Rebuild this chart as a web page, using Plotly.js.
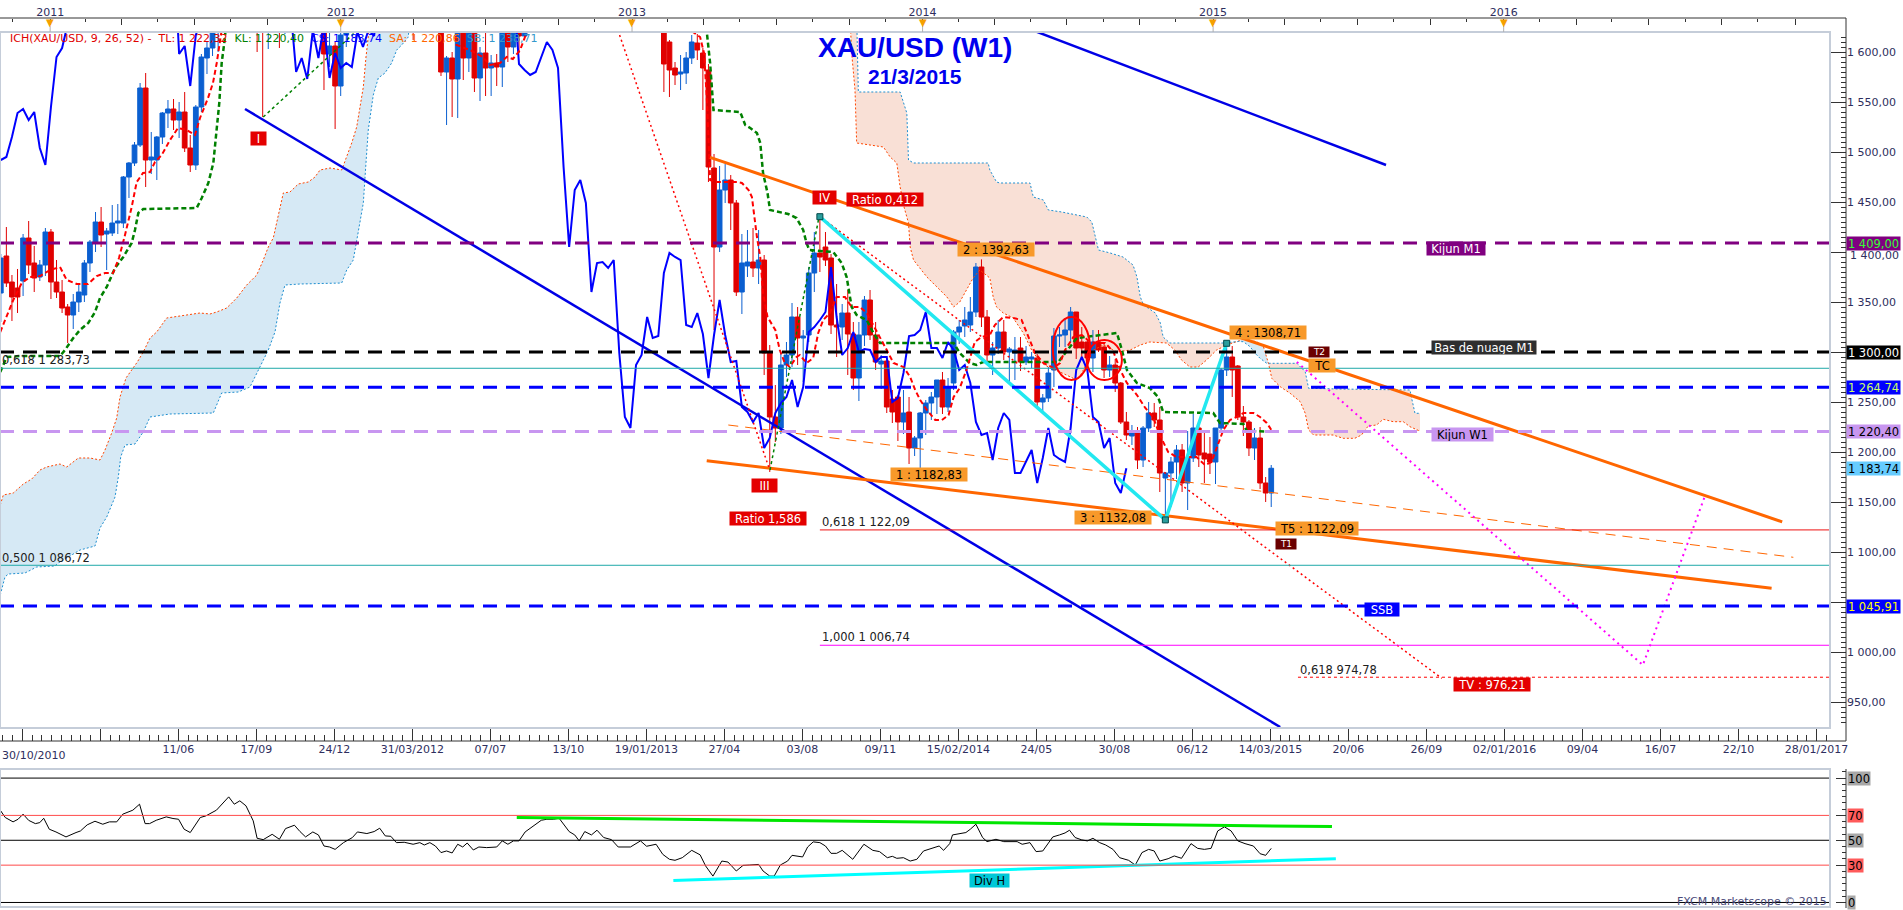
<!DOCTYPE html>
<html><head><meta charset="utf-8">
<script src="https://cdn.plot.ly/plotly-3.0.1.min.js"></script>
<style>html,body{margin:0;padding:0;background:#fff;overflow:hidden}#chart{width:1903px;height:910px}</style>
</head><body><div id="chart"></div>
<script>
// ---------------- DATA ----------------
const firstWeek = '2010-10-31';  // weekly candles, one per week from this Sunday
const wkOpen = [
1359,1396,1370,1364,1371,1414,1389,1375,1387,1420,
1370,1360,1345,1337,1350,1357,1389,1409,1430,1418,
1419,1429,1429,1475,1489,1507,1564,1492,1492,1515,
1539,1543,1532,1540,1504,1487,1545,1594,1604,1628,
1663,1745,1852,1828,1877,1856,1812,1657,1623,1635,
1682,1642,1744,1752,1788,1724,1685,1746,1710,1598,
1606,1566,1617,1631,1665,1727,1725,1724,1725,1775,
1710,1711,1658,1662,1669,1630,1659,1642,1663,1644,
1580,1594,1573,1622,1594,1627,1574,1599,1584,1589,
1585,1620,1605,1622,1616,1671,1692,1738,1768,1772,
1773,1780,1758,1724,1711,1676,1731,1714,1751,1711,
1705,1696,1658,1657,1656,1662,1687,1657,1667,1667,
1610,1584,1578,1579,1594,1609,1599,1582,1484,1405,
1462,1472,1449,1360,1386,1390,1384,1392,1299,1235,
1224,1287,1297,1335,1314,1317,1379,1399,1405,1394,
1327,1325,1339,1318,1274,1317,1352,1317,1288,1291,
1253,1255,1230,1240,1204,1214,1239,1249,1255,1272,
1245,1269,1320,1326,1327,1340,1385,1335,1297,1304,
1320,1300,1299,1304,1290,1293,1294,1250,1254,1282,
1316,1317,1322,1340,1310,1310,1294,1310,1305,1282,
1287,1269,1230,1216,1219,1192,1224,1239,1232,1174,
1179,1190,1202,1169,1194,1224,1199,1198,1190,1224,
1282,1295,1286,1235,1230,1204,1214,1169,1159];
const wkHigh = [
1398,1425,1377,1383,1418,1431,1406,1392,1424,1423,
1392,1372,1348,1358,1368,1392,1412,1440,1445,1424,
1447,1448,1476,1490,1510,1569,1579,1520,1516,1540,
1552,1553,1550,1560,1517,1547,1598,1610,1630,1682,
1800,1880,1913,1881,1921,1858,1832,1680,1676,1695,
1695,1760,1765,1803,1797,1727,1761,1762,1724,1622,
1610,1634,1661,1670,1730,1764,1763,1738,1782,1790,
1718,1715,1670,1697,1680,1677,1663,1665,1678,1649,
1596,1600,1632,1641,1640,1630,1605,1627,1597,1598,
1625,1627,1625,1626,1675,1692,1740,1773,1788,1781,
1796,1788,1762,1731,1725,1740,1737,1754,1754,1722,
1722,1700,1668,1694,1679,1693,1696,1684,1681,1674,
1612,1590,1597,1600,1617,1618,1604,1588,1498,1486,
1488,1477,1452,1418,1422,1424,1422,1397,1307,1267,
1300,1310,1349,1345,1322,1385,1420,1435,1420,1398,
1368,1348,1362,1330,1330,1356,1362,1330,1297,1294,
1262,1257,1262,1255,1216,1240,1252,1260,1272,1280,
1274,1322,1332,1345,1355,1389,1392.63,1342,1310,1332,
1332,1305,1315,1315,1306,1300,1298,1258,1285,1324,
1325,1334,1345,1340,1325,1312,1322,1322,1310,1296,
1293,1270,1240,1227,1225,1226,1250,1249,1245,1180,
1195,1207,1208,1221,1238,1226,1220,1215,1224,1284,
1308.71,1306,1287,1246,1232,1224,1225,1175,1187];
const wkLow = [
1330,1365,1331,1339,1356,1378,1360,1371,1376,1353,
1354,1339,1309,1323,1340,1350,1380,1400,1405,1382,
1416,1418,1424,1454,1486,1505,1465,1478,1472,1508,
1524,1522,1514,1500,1480,1482,1540,1578,1596,1600,
1651,1722,1702,1800,1815,1764,1600,1535,1603,1630,
1604,1618,1676,1738,1707,1676,1682,1702,1562,1585,
1523,1556,1605,1627,1652,1710,1700,1702,1720,1688,
1662,1635,1627,1655,1612,1629,1625,1627,1630,1576,
1527,1535,1534,1572,1580,1560,1551,1556,1556,1566,
1565,1590,1598,1599,1612,1640,1687,1724,1753,1747,
1768,1754,1720,1697,1673,1672,1705,1713,1705,1684,
1692,1635,1646,1626,1645,1660,1652,1654,1659,1560,
1555,1567,1562,1568,1588,1592,1542,1470,1322,1400,
1449,1422,1356,1338,1375,1375,1368,1277,1180,1210,
1218,1275,1285,1287,1270,1310,1360,1380,1386,1318,
1295,1312,1277,1262,1251,1306,1312,1282,1263,1239,
1229,1211,1218,1188,1196,1182.83,1217,1232,1238,1238,
1240,1262,1308,1315,1320,1335,1325,1290,1277,1298,
1292,1268,1272,1281,1287,1284,1244,1240,1250,1265,
1305,1305,1310,1293,1292,1282,1280,1300,1274,1275,
1260,1228,1212,1207,1183,1185,1220,1225,1160,1132.08,
1145,1173,1160,1142,1190,1185,1169,1178,1168,1220,
1276,1255,1232,1216,1196,1192,1163,1150,1145];
const wkClose = [
1394,1369,1355,1355,1414,1387,1374,1387,1420,1370,
1360,1344,1337,1350,1360,1389,1410,1430,1417,1421,
1429,1431,1475,1489,1507,1564,1492,1495,1515,1539,
1543,1532,1540,1504,1487,1545,1595,1604,1628,1663,
1745,1852,1828,1877,1856,1812,1657,1623,1635,1682,
1642,1744,1752,1788,1724,1685,1746,1710,1598,1606,
1566,1617,1631,1665,1727,1725,1724,1725,1775,1710,
1711,1658,1662,1669,1630,1659,1642,1663,1644,1580,
1594,1573,1622,1594,1627,1574,1599,1584,1589,1585,
1620,1605,1622,1616,1671,1692,1738,1768,1772,1773,
1780,1758,1724,1711,1676,1731,1714,1751,1711,1705,
1696,1658,1657,1656,1662,1687,1657,1667,1667,1588,
1582,1577,1580,1594,1610,1602,1584,1485,1405,1462,
1472,1449,1360,1389,1390,1384,1392,1299,1235,1224,
1287,1297,1335,1314,1316,1379,1399,1395,1392,1327,
1325,1339,1318,1274,1317,1352,1317,1290,1291,1245,
1240,1230,1239,1204,1214,1239,1249,1255,1272,1245,
1265,1320,1325,1332,1340,1385,1335,1297,1304,1320,
1300,1303,1302,1290,1295,1295,1250,1254,1279,1316,
1317,1322,1340,1304,1304,1294,1310,1302,1282,1287,
1269,1230,1217,1219,1192,1224,1239,1232,1179,1179,
1190,1202,1169,1194,1224,1197,1193,1190,1224,1282,
1295,1282,1235,1230,1204,1214,1169,1159,1183.74];

// Ichimoku lines, sampled: week offset from firstWeek -> price
const tenkanWk = [-0.1,1.06,2.24,3.75,5.24,7.04,8.83,10.62,11.83,13.62,15.65,17.21,18.71,20.14,21.21,22.29,23.49,24.39,25.52,26.78,27.67,28.88,30.37,31.8,33.36,34.85,35.75,37.19,38.08,38.75,39.34,39.64,40.4,
 81.2,81.8,84.2,86.5,87.8,89.6,90.8,91.9,93.2,94.4,95,
 123.7,124.2,125.5,126.2,126.7,127.3,128.2,130.3,132.1,133,134.2,134.8,135.2,135.7,136.3,136.8,137.6,139,139.8,140.7,141.6,142.8,143.4,144.6,145.8,146.7,147.6,148.8,150,151.5,152.7,154.2,155.4,156.6,157.8,159,160.2,162,163.2,164.1,165,166.2,167.7,168.9,170.1,171,172.1,173.3,174.8,176,177.5,178.4,179.9,181.7,183.2,184.4,185.6,187.1,188.9,190.1,191,192.5,194,195.5,196.7,198.2,199.7,200.9,202.1,203.9,205.4,206.8,208,209.5,211,212.8,214.6,216.1,217.3,218.2,219.4,220.6,221.8,223,224.8,226,227.2,228];
const tenkanVal = [1320,1335,1352,1369,1375,1376,1382,1385,1372,1368,1368,1376,1379,1379,1394,1417,1445,1470,1479,1480,1490,1497,1512,1524,1522,1517,1534,1554,1569,1589,1609,1622,1660,
 1640,1607,1602,1595,1587,1589,1595,1593,1602,1620,1640,
 1640,1620,1615,1599,1555,1472,1470,1470,1470,1469,1462,1455,1435,1415,1395,1359,1335,1322,1302,1289,1285,1295,1297,1289,1294,1319,1332,1339,1355,1355,1345,1345,1339,1327,1315,1302,1289,1285,1275,1262,1252,1242,1232,1232,1237,1255,1264,1282,1310,1315,1317,1327,1335,1334,1332,1315,1299,1289,1284,1289,1302,1315,1317,1310,1309,1309,1300,1282,1269,1257,1244,1235,1217,1200,1195,1195,1195,1187,1190,1204,1222,1232,1235,1239,1239,1235,1229,1222.3];
const kijunWk = [-0.1,1.06,3.45,8.24,10.62,11.52,13.01,14.21,15.7,16.91,17.8,19.01,20.5,21.98,23.49,24.08,24.68,25.57,35.16,36.06,37.24,38.14,38.75,39.21,39.64,40.24,40.6,
 126.4,126.7,127.3,127.9,132.7,133.6,134.5,135.7,136.3,136.8,137.6,138.05,141.3,142.8,144,144.6,145.1,149.4,150.9,151.8,152.4,152.7,153.6,155.4,156.6,157.8,171,172.1,173.9,175.1,176.3,189.8,193.1,200.3,201.2,202.1,203.9,206.2,207.7,208.6,217.6,218.8,223,223.6,228];
const kijunVal = [1280,1295,1296,1296,1296,1302,1314,1322,1329,1340,1354,1365,1384,1395,1409,1422,1439,1443,1444,1454,1469,1489,1522,1549,1589,1615,1650,
 1650,1620,1589,1542,1540,1527,1524,1519,1509,1479,1459,1442,1438,1434,1422,1409,1402,1400,1389,1375,1355,1345,1337,1332,1319,1309,1309,1299,1289,1287,1290,1290,1314,1319,1302,1282,1269,1264,1255,1240,1239,1229,1228,1221,1220.4];
const ssaWk = [-0.1,0.45,2.24,4.04,5.55,7.04,8.24,10.62,11.83,13.91,16.01,17.8,18.7,19.9,20.8,21.39,22.47,23.49,24.5,25.57,26.78,27.98,29.77,30.96,33.36,35.75,37.54,38.75,40.54,42.34,44.13,45.93,47.11,48.01,48.9,49.8,50.7,51.9,53.39,55.19,56.39,57.29,59.08,61.18,62.08,62.98,63.87,64.47,65.06,65.54,65.95,66.4,
 152.2,152.7,153.3,153.6,158.4,159.6,160.8,161.4,162.1,162.9,163.2,163.8,165,166.2,168,169.8,171,172.1,173.3,174.5,175.7,177.5,178.1,178.7,179.9,181.7,183.5,185,186.5,188.3,190.1,191.9,193.1,194,194.9,196.1,197.9,200.3,202.7,204.5,206.2,209.2,210.7,211.9,213.4,214.9,216.4,218.2,220,222.1,
 223,225.4,226.6,227.5,228.1,229.6,231.4,233.2,234.1,234.7,235.6,239.1,240.9,243,244.2,245.4,246.9,248.1,249.9,251.7,252.9,254.7];
const ssaVal = [1147,1157,1159,1168,1173,1182,1185,1188,1185,1194,1194,1192,1202,1219,1234,1255,1274,1282,1290,1300,1314,1320,1334,1335,1337,1339,1338,1340,1344,1354,1367,1377,1392,1405,1414,1437,1459,1460,1468,1470,1475,1482,1484,1482,1495,1509,1525,1545,1565,1595,1615,1660,
 1660,1599,1562,1509,1505,1495,1489,1465,1445,1429,1405,1392,1384,1375,1365,1355,1345,1350,1362,1374,1382,1374,1355,1345,1339,1334,1319,1302,1290,1284,1280,1275,1272,1279,1289,1302,1307,1300,1302,1307,1310,1309,1302,1292,1285,1285,1292,1302,1307,1311,
 1312.7,1310.3,1305.3,1288.7,1273.7,1265.3,1258.7,1250.3,1238.7,1222,1217,1217,1213.7,1213.7,1217,1226,1227,1232.7,1230.3,1230.3,1225.3,1220.86];
const ssbWk = [-0.1,0.75,1.35,4.34,6.44,9.73,10.32,14.21,16.91,17.8,19.01,20.5,21.09,21.52,22.29,24.08,25.57,26.78,30.37,38.14,39.64,42.62,44.72,46.52,48.01,49.21,50.1,51,53.7,61.18,62.08,63.26,64.16,65.06,65.54,65.95,66.85,67.75,68.95,70.15,71.05,71.95,73.13,73.8,
 153.5,153.9,161.4,162.6,162.9,163.8,177.2,177.5,178.7,179.3,184.7,185.3,187.1,188,190.4,194.9,195.8,196.6,197,199.1,201.4,203.2,203.9,204.5,205.1,207.2,208.1,208.6,209.8,214.6,219.4,222.1,
 223,224.2,225.1,226,227.2,227.5,232.6,234.1,234.7,240.3,252.9,253.2,253.8,254.7];
const ssbVal = [1057,1075,1078,1079,1085,1086,1089,1102,1106,1124,1135,1155,1175,1195,1207,1208,1220,1235,1238,1239,1259,1260,1265,1285,1302,1320,1349,1367,1368,1369,1382,1392,1419,1449,1489,1522,1557,1574,1579,1589,1602,1607,1615,1660,
 1660,1560,1560,1539,1492,1489,1489,1482,1470,1469,1469,1455,1452,1442,1440,1435,1430,1412,1402,1399,1395,1387,1375,1355,1347,1339,1329,1315,1309,1309,1309,1310.5,
 1310.3,1305.3,1298.7,1293.7,1288.7,1288.7,1288.7,1280.3,1263.7,1263,1262,1253.7,1238.7,1238.71];
const cloudSegments = [ {from:-1, to:75, bull:true}, {from:150, to:222.1, bull:false}, {from:222.1, to:227.5, bull:true}, {from:227.5, to:255, bull:false} ];

// RSI (14), sampled
const rsiWk = [-0.1,0.8,2.2,3.1,4,5,6.2,7,7.7,8.7,9.9,11.7,13.5,14.3,15.5,16.9,18.3,19.5,20.8,21.9,23.7,24.9,25.9,26.7,27.9,29.7,30.9,31.9,32.9,34,35.8,36.8,38.7,39.9,40.9,41.9,42.9,44,44.7,45.3,46,47.1,48.7,50,51.1,52.7,53.7,54.7,56,57,58,59,60,61.5,63.1,64,65.7,67,68,69,70,71,72.4,74,75.2,76,77,78,79,80,81,82,82.9,83.7,84.8,85.8,87.2,89,90,91,92,93,94.1,95.7,97,98,99.2,100.2,101,102,103,103.8,104.8,106,107,108.2,109.6,110.8,113,114.8,115.9,117.6,118.8,120,121,122.3,124,125.5,126.5,127.8,129.4,130.5,132,133.2,134.4,136,136.8,138,138.8,139.9,141.2,142,143.9,144.8,145.8,147,148,149,150,151,152.9,154.9,156.5,157.7,159.1,160,160.8,162,163.2,164.4,165.6,167.2,168.4,169.2,170.3,170.8,172,173.2,174,175,176.2,177,178.6,180,182.4,183.3,184.7,185.8,187,188.8,190,191,191.8,192.8,194,195,196,197.2,198.3,199.6,200.8,202.4,203.6,204.8,206,207,208,209.5,210.6,211.9,213.6,214.8,216,217.2,218.4,219.6,220.8,222,223.3,224.8,226,227,228];
const rsiVal = [74.2,68.3,64.8,66.9,71,66,63.4,64.2,67.7,58.9,56.7,52.7,56.2,57.5,62.4,65.3,62.9,64.8,64.8,71,74.2,79,63.4,63.4,66.1,68.8,67.5,66.9,58.9,56.2,68.3,69.6,74.2,80.4,84.9,79,81.7,77.7,71.5,65.6,51.6,50.5,54.8,50.8,59.4,62.1,57,52.7,56.7,54.3,45.4,44.6,42.7,48.1,52.2,56.7,55.4,57,59.7,53.5,53.2,48.1,48.4,46.8,48.1,46.2,48.1,45.4,40.1,41.4,39.8,46.8,44.6,47.8,42.2,44.6,44.1,44.6,49.5,46.8,49.5,49.5,56.7,61.6,66.1,66.9,66.9,67.7,62.9,57,54.3,49.5,57,54.3,58.1,52.2,50.5,44.6,44.6,49.5,45.2,46.8,38.7,34.7,33.9,36,41.9,38.3,29.3,21.2,33.3,32.5,25.3,29.8,30.1,30.6,25.3,21.2,21.2,30.1,33.3,37.9,36.6,44.6,48.7,48.1,45.4,39.5,39.5,41.9,34.7,46.8,41.9,40.9,36,37.1,35.5,36,33.3,34.7,41.4,43.5,45.4,41.9,47.3,54.3,55.4,56.2,58.9,62.9,52.2,48.9,50.8,48.9,48.9,46.8,48.1,40.9,41.4,52.7,54.3,55.9,58.1,52.2,50.3,49.5,51.6,48.1,46.2,42.7,36,33.9,30.1,40.1,42.7,41.4,33.3,35.2,37.4,35.5,47.3,43.5,42.7,43.5,57.5,60.8,57.5,49.5,47.3,45.4,39.2,37.9,43.5];

// Drawn trend lines: [week, price] end points
const trendLines = {
  blueMain:    {wk:[43.83,229.6],  p:[1543,925]},
  blueTop:     {wk:[182.9,248.6],  p:[1626.6,1487]},
  orangeUpper: {wk:[127.28,319.7], p:[1494.7,1130.2]},
  orangeLower: {wk:[126.69,317.8], p:[1191.3,1063.7]},
  orangeThin:  {wk:[130.56,321.7], p:[1227,1094.7]},
  redSteep:    {wk:[109,138],      p:[1650,1182]},
  redTV:       {wk:[146.84,258.6], p:[1436,973.7]},
  greenI:      {wk:[47.1,65],      p:[1535,1627]},
  greenIIIIV:  {wk:[138.05,146.84],p:[1182,1435]},
  magenta:     {wk:[232.6,294.7,305.9], p:[1290,987,1157]},
  cyanWave:    {wk:[147,209,220],  p:[1435.3,1132.08,1308.71]}
};
const rsiTrends = {
  green: {wk:[92.6,238.9], v:[68.3,61.0]},
  cyan:  {wk:[120.7,239.6], v:[17.7,35.2]}
};
// Horizontal levels
const levels = [
  {p:1409.00, fromWk:null},{p:1300.00, fromWk:null},{p:1283.73, fromWk:null},{p:1264.74, fromWk:null},
  {p:1220.40, fromWk:null},{p:1122.09, fromWk:147},{p:1086.72, fromWk:null},{p:1045.91, fromWk:null},
  {p:1006.74, fromWk:147},{p:974.78, fromWk:232.8}
];
const levelStyle = [
  {color:'#800080',width:3,dash:'14px,9px'},{color:'#000000',width:3,dash:'14px,9px'},{color:'#1fa8a8',width:1,dash:'solid'},
  {color:'#0000ff',width:3,dash:'14px,9px'},{color:'#c896f0',width:3,dash:'14px,9px'},{color:'#ee1111',width:1,dash:'solid'},
  {color:'#1fa8a8',width:1,dash:'solid'},{color:'#0000ff',width:3,dash:'14px,9px'},{color:'#ff00ff',width:1,dash:'solid'},
  {color:'#ff0000',width:1,dash:'3px,3px'}
];
// Labels on the chart: text, week, price
const chartLabels = [
  {t:'I', wk:46.2, p:1514, s:'red'},
  {t:'IV', wk:147.8, p:1454.5, s:'red'},
  {t:'Ratio 0,412', wk:158.6, p:1452.5, s:'red'},
  {t:'III', wk:137.06, p:1166.5, s:'red'},
  {t:'Ratio 1,586', wk:137.6, p:1134, s:'red'},
  {t:'1 : 1182,83', wk:166.5, p:1177.5, s:'orange'},
  {t:'2 : 1392,63', wk:178.6, p:1403, s:'orange'},
  {t:'3 : 1132,08', wk:199.6, p:1135, s:'orange'},
  {t:'4 : 1308,71', wk:227.5, p:1319.5, s:'orange'},
  {t:'T5 : 1122,09', wk:236.2, p:1123.5, s:'orange'},
  {t:'TC', wk:237.1, p:1286.5, s:'orange'},
  {t:'T1', wk:230.7, p:1108, s:'dark'},
  {t:'T2', wk:236.6, p:1300, s:'dark'},
  {t:'Bas de nuage M1', wk:266.1, p:1304.5, s:'black'},
  {t:'Kijun W1', wk:262.3, p:1217.5, s:'lav'},
  {t:'Kijun M1', wk:261.2, p:1404, s:'purple'},
  {t:'SSB', wk:247.9, p:1043, s:'blue'},
  {t:'TV : 976,21', wk:267.7, p:968, s:'red'}
];
const fiboTexts = [
  {t:'0,618 1 283,73', wk:-0.14, p:1292},
  {t:'0,500 1 086,72', wk:-0.14, p:1094},
  {t:'0,618 1 122,09', wk:147, p:1130},
  {t:'1,000 1 006,74', wk:147, p:1015},
  {t:'0,618 974,78', wk:232.8, p:982}
];
const priceTags = [
  {p:1409.00, bg:'#800080', fg:'#33ff33'},
  {p:1300.00, bg:'#000000', fg:'#ffffff'},
  {p:1264.74, bg:'#0000ff', fg:'#ccff66'},
  {p:1220.40, bg:'#c896f0', fg:'#000000'},
  {p:1183.74, bg:'#66ccff', fg:'#000000'},
  {p:1045.91, bg:'#0000ff', fg:'#ffff00'}
];
const priceTicks = [950,1000,1050,1100,1150,1200,1250,1300,1350,1400,1450,1500,1550,1600];
const coveredTicks = [1050,1300,1400];   // tick labels hidden behind the value tags
const rsiTags = [{v:100,bg:'#a8a8a8'},{v:70,bg:'#ff5a5a'},{v:50,bg:'#a8a8a8'},{v:30,bg:'#ff5a5a'},{v:0,bg:'#a8a8a8'}];
const dateTicks = ['2010-11-27','2011-03-05','2011-06-11','2011-09-17','2011-12-24','2012-03-31','2012-07-07','2012-10-13','2013-01-19','2013-04-27','2013-08-03','2013-11-09','2014-02-15','2014-05-24','2014-08-30','2014-12-06','2015-03-14','2015-06-20','2015-09-26','2016-01-02','2016-04-09','2016-07-16','2016-10-22','2017-01-28'];
const dateTickText = ['','','11/06','17/09','24/12','31/03/2012','07/07','13/10','19/01/2013','27/04','03/08','09/11','15/02/2014','24/05','30/08','06/12','14/03/2015','20/06','26/09','02/01/2016','09/04','16/07','22/10','28/01/2017'];
const years = [2011,2012,2013,2014,2015,2016];

// ---------------- HELPERS ----------------
const DAY = 86400000, WEEK = 7*DAY;
const T0 = Date.parse(firstWeek + 'T00:00:00Z');
function wkIso(w){ return new Date(T0 + w*WEEK).toISOString().slice(0,19); }
function wkDate(w){ return wkIso(w).replace('T',' '); }
function wkPath(w){ return wkIso(w).replace('T','_'); }
function fmtPrice(v){ const s=v.toFixed(2).split('.'); return s[0].replace(/\B(?=(\d{3})+(?!\d))/g,' ')+','+s[1]; }
const W=1903, H=910;
const px = x => x/W, py = y => 1 - y/H;
const XR = [wkDate(-0.1436), wkDate(328.28)];
const XD = [0, px(1830)];
const FONT = 'DejaVu Sans, Verdana, sans-serif';

// ---------------- TRACES ----------------
const candleX = wkClose.map((_,i)=>wkDate(i));
const traces = [];
traces.push({type:'candlestick', x:candleX, open:wkOpen, high:wkHigh, low:wkLow, close:wkClose,
  increasing:{line:{color:'#0b5fd0',width:1}, fillcolor:'#0b5fd0'},
  decreasing:{line:{color:'#e00000',width:1}, fillcolor:'#e00000'},
  whiskerwidth:0, hoverinfo:'skip', showlegend:false});
function line(xw, y, color, width, dash, extra){
  return Object.assign({type:'scatter', mode:'lines', x:xw.map(wkDate), y:y, line:{color:color,width:width,dash:dash}, hoverinfo:'skip', showlegend:false}, extra||{});
}
traces.push(line(ssaWk, ssaVal, '#ff4500', 1, '2px,2px'));
traces.push(line(ssbWk, ssbVal, '#1f8fd0', 1, '2px,2px'));
// chikou = close plotted 26 weeks back
const chX=[], chY=[];
for(let i=26;i<wkClose.length;i++){ chX.push(i-26); chY.push(wkClose[i]); }
traces.push(line(chX, chY, '#0000ff', 2, 'solid'));
traces.push(line(kijunWk, kijunVal, '#008000', 2.5, '5px,3px'));
traces.push(line(tenkanWk, tenkanVal, '#ff0000', 2, '5px,3px'));
const trendStyle = {
  blueMain:['#0000e6',2.5,'solid'], blueTop:['#0000e6',2.5,'solid'],
  orangeUpper:['#ff6600',3,'solid'], orangeLower:['#ff6600',3,'solid'], orangeThin:['#ff6600',1,'10px,7px'],
  redSteep:['#ff0000',1.5,'2px,3px'], redTV:['#ff0000',1.5,'2px,3px'],
  greenI:['#008000',1.5,'3px,3px'], greenIIIIV:['#008000',1.5,'3px,3px'],
  magenta:['#ff00ff',2,'2px,4px'], cyanWave:['#22e8f0',3.5,'solid']
};
for(const k in trendLines){ const s=trendStyle[k]; traces.push(line(trendLines[k].wk, trendLines[k].p, s[0], s[1], s[2])); }
traces.push({type:'scatter', mode:'markers', x:trendLines.cyanWave.wk.map(wkDate), y:trendLines.cyanWave.p,
  marker:{symbol:'square', size:6, color:'#2a9d9d', line:{color:'#004848',width:1}}, hoverinfo:'skip', showlegend:false});
// RSI panel
traces.push(line(rsiWk, rsiVal, '#000000', 1, 'solid', {xaxis:'x3', yaxis:'y2'}));
traces.push(line(rsiTrends.green.wk, rsiTrends.green.v, '#00e600', 3, 'solid', {xaxis:'x3', yaxis:'y2'}));
traces.push(line(rsiTrends.cyan.wk, rsiTrends.cyan.v, '#00ffff', 3, 'solid', {xaxis:'x3', yaxis:'y2'}));
// anchor trace for the top axis
traces.push({type:'scatter', mode:'markers', x:[wkDate(10)], y:[5000], xaxis:'x2', yaxis:'y', marker:{opacity:0}, hoverinfo:'skip', showlegend:false});

// ---------------- SHAPES ----------------
const shapes = [];
cloudSegments.forEach(seg=>{
  const a=[], b=[];
  ssaWk.forEach((w,i)=>{ if(w>=seg.from-1e-6 && w<=seg.to+1e-6) a.push([w, ssaVal[i]]); });
  ssbWk.forEach((w,i)=>{ if(w>=seg.from-1e-6 && w<=seg.to+1e-6) b.push([w, ssbVal[i]]); });
  const pts = a.concat(b.reverse());
  shapes.push({type:'path', xref:'x', yref:'y', layer:'below', path:'M'+pts.map(q=>wkPath(q[0])+','+q[1]).join('L')+'Z',
    fillcolor: seg.bull ? '#d6e9f5' : '#f9e0d6', line:{width:0}});
});
levels.forEach((lv,i)=>{
  const st = levelStyle[i];
  if(lv.fromWk===null) shapes.push({type:'line', xref:'paper', yref:'y', x0:0, x1:XD[1], y0:lv.p, y1:lv.p, line:{color:st.color,width:st.width,dash:st.dash}});
  else shapes.push({type:'line', xref:'x', yref:'y', x0:wkDate(lv.fromWk), x1:XR[1], y0:lv.p, y1:lv.p, line:{color:st.color,width:st.width,dash:st.dash}});
});
// red ellipses
shapes.push({type:'circle', xref:'x', yref:'y', x0:wkDate(188.8), x1:wkDate(195.5), y0:1272, y1:1335, line:{color:'#ff0000',width:2}});
shapes.push({type:'circle', xref:'x', yref:'y', x0:wkDate(194.9), x1:wkDate(201.2), y0:1272, y1:1312, line:{color:'#ff0000',width:2}});
// RSI levels
[[100,'#000000'],[70,'#ff4a4a'],[50,'#000000'],[30,'#ff4a4a'],[0,'#000000']].forEach(r=>{
  shapes.push({type:'line', xref:'paper', yref:'y2', x0:0, x1:XD[1], y0:r[0], y1:r[0], line:{color:r[1],width:1}});
});
// frames and axis lines
shapes.push({type:'rect', xref:'paper', yref:'paper', x0:0, x1:XD[1], y0:py(728), y1:py(32), line:{color:'#c5cdd9',width:2}});
shapes.push({type:'rect', xref:'paper', yref:'paper', x0:0, x1:XD[1], y0:py(907), y1:py(769), line:{color:'#c5cdd9',width:2}});
shapes.push({type:'line', xref:'paper', yref:'paper', x0:0, x1:px(1846), y0:py(18), y1:py(18), line:{color:'#333',width:1}});
shapes.push({type:'line', xref:'paper', yref:'paper', x0:0, x1:px(1846), y0:py(741), y1:py(741), line:{color:'#333',width:1}});
shapes.push({type:'line', xref:'paper', yref:'paper', x0:px(1846), x1:px(1846), y0:py(741), y1:py(18), line:{color:'#333',width:1}});
shapes.push({type:'line', xref:'paper', yref:'paper', x0:px(1846), x1:px(1846), y0:py(908), y1:py(769), line:{color:'#333',width:1}});
years.forEach(y=>{
  shapes.push({type:'line', xref:'x2', yref:'paper', x0:y+'-01-01', x1:y+'-01-01', y0:py(26), y1:py(32), line:{color:'#b0b0b0',width:1}});
});

// ---------------- ANNOTATIONS ----------------
const ann = [];
const boxStyle = {red:['#e40000','#ffffff'], orange:['#f8992a','#000000'], dark:['#6b0000','#ffffff'], black:['#2e2e2e','#ffffff'],
  lav:['#c896f0','#000000'], purple:['#800080','#ffffff'], blue:['#0000ff','#ffffff']};
const boxWidth = {'I':15,'IV':23,'III':25,'TC':26,'T1':20,'T2':20,'SSB':34,'Kijun W1':61,'Kijun M1':58,'Bas de nuage M1':104};
chartLabels.forEach(l=>{
  const st = boxStyle[l.s];
  const small = (l.t==='T1'||l.t==='T2');
  const w = boxWidth[l.t] || Math.round(l.t.length*6.5 + 4);
  ann.push({xref:'x', yref:'y', x:wkDate(l.wk), y:l.p, text:l.t, showarrow:false, xanchor:'center', yanchor:'middle',
    bgcolor:st[0], borderpad:0, width:w, height: small?10:13, font:{family:FONT, size: small?9:11.5, color:st[1]}});
});
fiboTexts.forEach(f=>{
  ann.push({xref:'x', yref:'y', x:wkDate(f.wk), y:f.p, text:f.t, showarrow:false, xanchor:'left', yanchor:'middle',
    font:{family:FONT, size:11.5, color:'#202020'}});
});
priceTags.forEach(t=>{
  ann.push({xref:'paper', yref:'y', x:px(1846), y:t.p, text:fmtPrice(t.p), showarrow:false, xanchor:'left', yanchor:'middle',
    bgcolor:t.bg, borderpad:0, width:53, height:13, font:{family:FONT, size:11.5, color:t.fg}});
});
// partly visible tick label under the 1 409,00 tag
ann.push({xref:'paper', yref:'y', x:px(1848), y:1396.5, text:fmtPrice(1400), showarrow:false, xanchor:'left', yanchor:'middle',
  font:{family:FONT, size:11, color:'#2e2e5e'}});
rsiTags.forEach(t=>{
  ann.push({xref:'paper', yref:'y2', x:px(1847), y:t.v, text:String(t.v), showarrow:false, xanchor:'left', yanchor:'middle',
    bgcolor:t.bg, borderpad:0, height:13, font:{family:FONT, size:11.5, color:'#000'}});
});
ann.push({xref:'x3', yref:'y2', x:wkDate(177.4), y:17.8, text:'Div H', showarrow:false, bgcolor:'#00c8d8', borderpad:0, width:39, height:13,
  font:{family:FONT, size:11.5, color:'#000'}});
years.forEach(y=>{
  ann.push({xref:'x2', yref:'paper', x:y+'-01-01', y:py(22.5), text:'▼', showarrow:false, yanchor:'middle',
    font:{family:FONT, size:10, color:'#f5a000'}});
});
ann.push({xref:'paper', yref:'paper', x:0, y:py(755), text:'30/10/2010', showarrow:false, xanchor:'left', yanchor:'middle',
  font:{family:FONT, size:11, color:'#2e2e5e'}});
ann.push({xref:'paper', yref:'paper', x:px(915), y:py(30), text:'<b>XAU/USD (W1)</b>', showarrow:false, xanchor:'center', yanchor:'top',
  font:{family:'Liberation Sans, Arial, sans-serif', size:28, color:'#0000ee'}});
ann.push({xref:'paper', yref:'paper', x:px(915), y:py(63.5), text:'<b>21/3/2015</b>', showarrow:false, xanchor:'center', yanchor:'top',
  font:{family:'Liberation Sans, Arial, sans-serif', size:21, color:'#0000ee'}});
ann.push({xref:'paper', yref:'paper', x:px(8), y:py(39), xanchor:'left', yanchor:'middle', showarrow:false,
  text:'<span style="color:#e00000">ICH(XAU/USD, 9, 26, 52) -  TL: 1 222,32</span>  <span style="color:#008000">KL: 1 220,40</span>  <span style="color:#0000ff">CS: 1 183,74</span>  <span style="color:#ff6600">SA: 1 220,86</span>  <span style="color:#3399cc">SB: 1 238,71</span>',
  font:{family:FONT, size:11}});
ann.push({xref:'paper', yref:'paper', x:px(1829), y:py(901), xanchor:'right', yanchor:'middle', showarrow:false,
  text:'FXCM Marketscope © 2015', font:{family:FONT, size:11, color:'#4a4a7a'}});

// ---------------- LAYOUT ----------------
const quarterTicks=[], quarterText=[], midTicks=[];
for(let y=2010;y<=2017;y++){
  ['01-01','04-01','07-01','10-01'].forEach(m=>{ const d=y+'-'+m; if(d>='2010-11-01' && d<='2017-02-10'){ quarterTicks.push(d); quarterText.push(m==='01-01' && years.indexOf(y)>=0 ? String(y):''); } });
  ['02-15','05-16','08-16','11-15'].forEach(m=>{ const d=y+'-'+m; if(d>='2010-11-01' && d<='2017-02-10') midTicks.push(d); });
}
const layout = {
  width:W, height:H, margin:{l:0,r:0,t:0,b:0}, paper_bgcolor:'#ffffff', plot_bgcolor:'rgba(0,0,0,0)', showlegend:false,
  font:{family:FONT, size:11, color:'#2e2e5e'},
  boxgap:0.15, boxgroupgap:0,
  xaxis:{type:'date', domain:XD, range:XR, anchor:'free', position:py(741), side:'bottom', rangeslider:{visible:false},
    tickvals:dateTicks, ticktext:dateTickText, ticks:'inside', ticklen:13, tickcolor:'#333', tickwidth:1,
    minor:{tick0:'2010-11-27', dtick:12.25*DAY, ticks:'inside', ticklen:6, tickcolor:'#333', showgrid:false},
    showgrid:false, zeroline:false, showline:false, tickangle:0, tickfont:{family:FONT,size:11,color:'#2e2e5e'}, fixedrange:true},
  xaxis2:{type:'date', overlaying:'x', matches:'x', range:XR, side:'top', anchor:'free', position:py(18),
    tickvals:quarterTicks, ticktext:quarterText, ticks:'inside', ticklen:6, tickcolor:'#333',
    minor:{tickvals:midTicks, ticks:'inside', ticklen:3, tickcolor:'#333', showgrid:false},
    showgrid:false, zeroline:false, showline:false, tickangle:0, tickfont:{family:FONT,size:11,color:'#2e2e5e'}, fixedrange:true},
  xaxis3:{type:'date', matches:'x', domain:XD, range:XR, anchor:'y2', visible:false, showgrid:false, zeroline:false, fixedrange:true},
  yaxis:{domain:[py(728), py(32)], range:[924,1620], side:'right', anchor:'free', position:px(1846),
    tickvals:priceTicks, ticktext:priceTicks.map(v=>coveredTicks.indexOf(v)>=0?'':fmtPrice(v)), ticks:'inside', ticklen:15, tickcolor:'#333',
    minor:{dtick:5, ticks:'inside', ticklen:5, tickcolor:'#333', showgrid:false},
    showgrid:false, zeroline:false, showline:false, tickfont:{family:FONT,size:11,color:'#2e2e5e'}, fixedrange:true},
  yaxis2:{domain:[py(907), py(769)], range:[-3.64,107.3], side:'right', anchor:'free', position:px(1846),
    tickvals:[0,30,50,70,100], showticklabels:false, ticks:'inside', ticklen:10, tickcolor:'#333',
    minor:{dtick:5, ticks:'inside', ticklen:4, tickcolor:'#333', showgrid:false},
    showgrid:false, zeroline:false, showline:false, fixedrange:true},
  shapes:shapes, annotations:ann
};
Plotly.newPlot('chart', traces, layout, {displayModeBar:false, staticPlot:true});
</script>
</body></html>
